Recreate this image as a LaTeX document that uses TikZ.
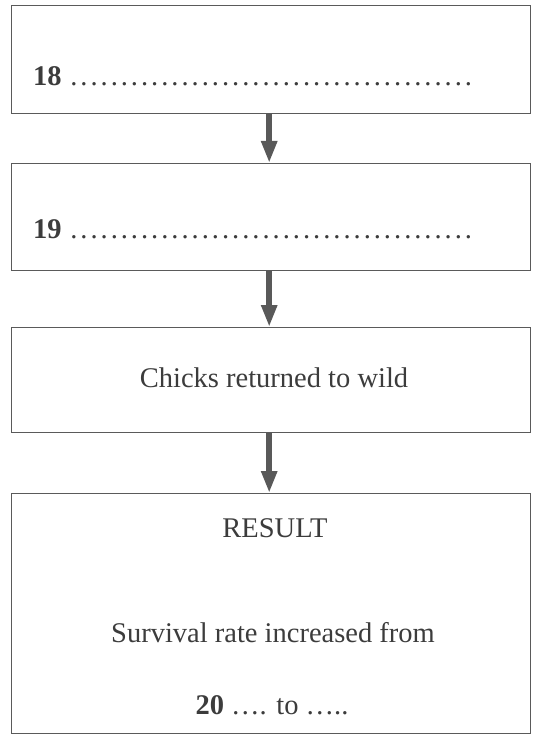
\documentclass[tikz,border=0pt]{standalone}
\usepackage{fontspec}
\setmainfont{Liberation Serif}
\usetikzlibrary{arrows.meta}
\definecolor{ink}{HTML}{3C3C3C}
\definecolor{frame}{HTML}{5A5A5A}
\definecolor{arrowc}{HTML}{595959}
\newcommand{\dotrow}[1]{\makebox[#1][l]{\xleaders\hbox to 9.93pt{\hss.\hss}\hfill}}
\begin{document}
\begin{tikzpicture}[x=1pt,y=-1pt,
  box/.style={draw=frame, line width=1.4pt, fill=white, rectangle, inner sep=0pt},
  txt/.style={text=ink, font=\fontsize{28.5}{32}\selectfont, inner sep=0pt},
  flow/.style={draw=arrowc, line width=6pt, -{Triangle[length=22pt,width=15pt]}}]
\useasboundingbox (0,0) rectangle (532,735);
\fill[white] (0,0) rectangle (532,735);
\node[box, minimum width=519pt, minimum height=108pt, anchor=north west] (b1) at (11,5) {};
\node[box, minimum width=519pt, minimum height=107pt, anchor=north west] (b2) at (11,163) {};
\node[box, minimum width=519pt, minimum height=105pt, anchor=north west] (b3) at (11,327) {};
\node[box, minimum width=519pt, minimum height=240pt, anchor=north west] (b4) at (11,493) {};
\node[txt, anchor=base west] (t18) at (33,86) {\textbf{18}\hspace{7pt}\dotrow{405pt}};
\node[txt, anchor=base west] (t19) at (33,238) {\textbf{19}\hspace{7pt}\dotrow{405pt}};
\node[txt, anchor=base] (t3) at (274,387) {Chicks returned to wild};
\node[txt, anchor=base] (t4a) at (275,537) {RESULT};
\node[txt, anchor=base] (t4b) at (273,642) {Survival rate increased from};
\node[txt, anchor=base] (t4c) at (272,714) {\textbf{20} …. to …..};
\draw[flow] ([xshift=-2pt]b1.south) -- ([xshift=-2pt]b2.north);
\draw[flow] ([xshift=-2pt]b2.south) -- ([xshift=-2pt]b3.north);
\draw[flow] ([xshift=-2pt]b3.south) -- ([xshift=-2pt]b4.north);
\end{tikzpicture}
\end{document}
